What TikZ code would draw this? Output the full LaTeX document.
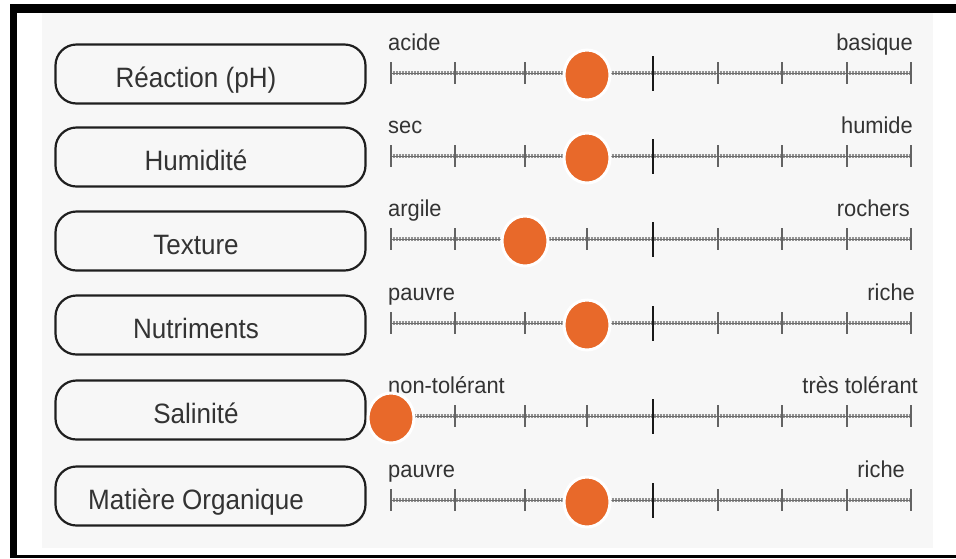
\documentclass[tikz,border=0pt]{standalone}
\usepackage{fontspec}
\setmainfont{Liberation Sans}
\usetikzlibrary{shapes.geometric}
\definecolor{panel}{HTML}{F7F7F7}
\definecolor{ink}{HTML}{333333}
\definecolor{dotorange}{HTML}{E8692A}
\definecolor{scalegray}{HTML}{6E6E6E}
\begin{document}
\begin{tikzpicture}[x=1pt,y=-1pt,
  pill/.style={draw=black!88, line width=2.2pt, rounded corners=21pt,
    minimum width=310pt, minimum height=59pt, fill=panel, inner sep=0pt},
  pilltext/.style={anchor=base, text=ink, inner sep=0pt,
    font=\fontsize{28}{30}\selectfont},
  endlabel/.style={text=ink, inner sep=0pt, font=\fontsize{23}{25}\selectfont},
  axisline/.style={draw=scalegray, line width=0.8pt},
  hatch/.style={draw=scalegray!75, line width=3.5pt, dash pattern=on 0.5pt off 1pt},
  smalltick/.style={draw=scalegray!90!black, line width=2pt},
  midtick/.style={draw=black!90, line width=2.4pt},
  dot/.style={ellipse, fill=dotorange, draw=white, line width=3pt,
    minimum width=46pt, minimum height=50pt, inner sep=0pt}]

\useasboundingbox (0,0) rectangle (956,558);
% page, panel and frame
\fill[white] (0,0) rectangle (956,558);
\fill[panel] (42,13) rectangle (933,548);
\fill[black] (10,4) rectangle (956,13);
\fill[black] (10,4) rectangle (17,558);
\fill[black] (10,555) rectangle (956,558);

% one row per soil property: name / pill centre / axis / low / high / dot x / right end of high label
\foreach \name/\cy/\ay/\lo/\hi/\dx/\hx [count=\i] in {
  {Réaction (pH)}/74/73/acide/basique/587/913,
  {Humidité}/157/156/sec/humide/587/913,
  {Texture}/241/239/argile/rochers/525/910,
  {Nutriments}/325/323/pauvre/riche/587/915,
  {Salinité}/410/416/non-tolérant/très tolérant/391/918,
  {Matière Organique}/496/500/pauvre/riche/587/905}{
  \node[pill] (pill\i) at (210.5,\cy) {};
  \node[pilltext] (name\i) at (196,\cy+13) {\scalebox{0.93}[1]{\name}};
  \node[endlabel, anchor=base west] (low\i) at (388,\ay-23) {\scalebox{0.95}[1]{\lo}};
  \node[endlabel, anchor=base east] (high\i) at (\hx,\ay-23) {\scalebox{0.95}[1]{\hi}};
  \coordinate (start\i) at (391,\ay);
  \coordinate (end\i) at (911,\ay);
  \draw[hatch] (start\i) -- (end\i);
  \draw[axisline] (start\i) -- (end\i);
  \foreach \t in {391,455,525,587,718,782,847,911}
    \draw[smalltick] (\t,\ay-11) -- (\t,\ay+11);
  \draw[midtick] (653,\ay-17) -- (653,\ay+18);
  \node[dot] (dot\i) at (\dx,\ay+2) {};
}
\end{tikzpicture}
\end{document}
